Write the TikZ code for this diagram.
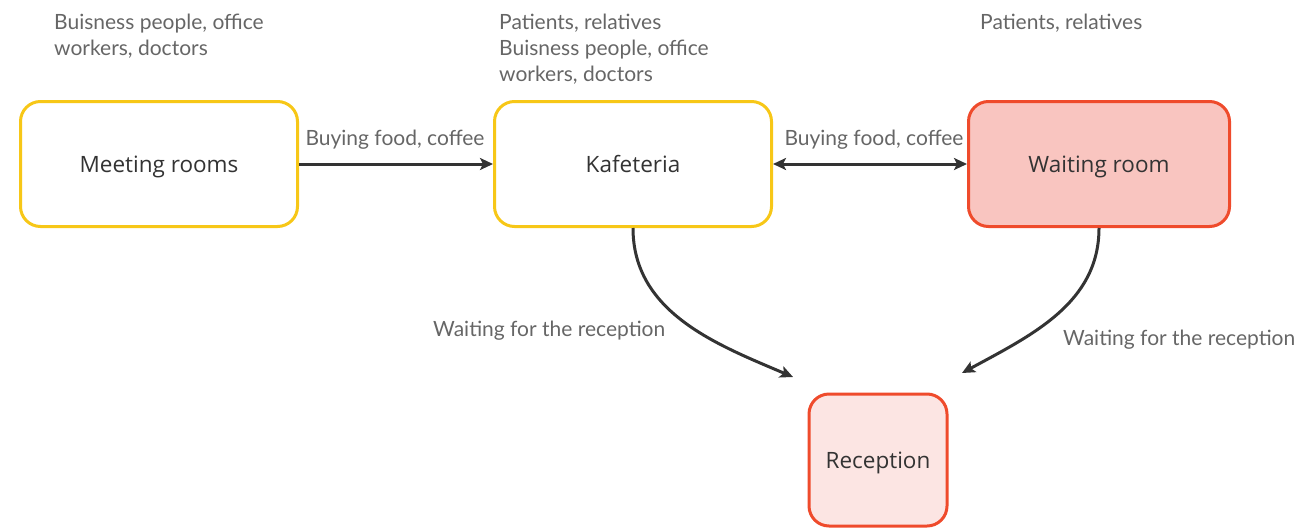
\documentclass[tikz,border=0pt]{standalone}
\usepackage{fontspec}
\setmainfont{Lato}
\newfontfamily\boxfont{Open Sans}
\usetikzlibrary{arrows.meta}
\definecolor{ylw}{HTML}{F7C717}
\definecolor{rd}{HTML}{EF4B2C}
\definecolor{wfill}{HTML}{F9C5C0}
\definecolor{rfill}{HTML}{FCE5E3}
\definecolor{ink}{HTML}{333333}
\definecolor{lbl}{HTML}{666666}
\tikzset{
  box/.style={draw, line width=3pt, rounded corners=20pt, inner sep=0pt, align=center,
    font=\boxfont\fontsize{22.5}{26}\selectfont, text=ink, text height=16pt, text depth=0pt},
  ybox/.style={box, draw=ylw, fill=white},
  rbox/.style={box, draw=rd},
  conn/.style={draw=ink, line width=3pt, -{Stealth[length=13pt,width=12pt,inset=3pt]}},
  lab/.style={font=\fontsize{21}{26}\selectfont, text=lbl, inner sep=0pt, align=left}
}
\begin{document}
\begin{tikzpicture}[x=1pt,y=-1pt]
\useasboundingbox (0,0) rectangle (1297,530);
\node[ybox, minimum width=277pt, minimum height=125pt] (meet) at (159,164) {Meeting rooms};
\node[ybox, minimum width=277pt, minimum height=125pt] (kaf) at (633,164) {Kafeteria};
\node[rbox, fill=wfill, minimum width=261pt, minimum height=125pt] (wait) at (1099,164) {Waiting room};
\node[rbox, fill=rfill, minimum width=138pt, minimum height=132pt] (rec) at (878,460) {Reception};

\coordinate (e1) at (793,377);
\coordinate (e2) at (962,373);

\draw[conn] (meet.east) -- (kaf.west);
\draw[conn, {Stealth[length=13pt,width=12pt,inset=3pt]}-{Stealth[length=13pt,width=12pt,inset=3pt]}] (kaf.east) -- (wait.west);
\draw[conn] (kaf.south) .. controls +(0,85) and +(-75,-32) .. (e1);
\draw[conn] (wait.south) .. controls +(0,75) and +(70,-38) .. (e2);

\node[lab, anchor=base] (l1) at (395,145) {Buying food, coffee};
\node[lab, anchor=base] (l2) at (874,145) {Buying food, coffee};
\node[lab, anchor=north west] (t1) at (54,14) {Buisness people, office\\workers, doctors};
\node[lab, anchor=north west] (t2) at (499,14) {Patients, relatives\\Buisness people, office\\workers, doctors};
\node[lab, anchor=north west] (t3) at (980,14) {Patients, relatives};
\node[lab, anchor=base west] (w1) at (433,336) {Waiting for the reception};
\node[lab, anchor=base west] (w2) at (1063,345) {Waiting for the reception};
\end{tikzpicture}
\end{document}
